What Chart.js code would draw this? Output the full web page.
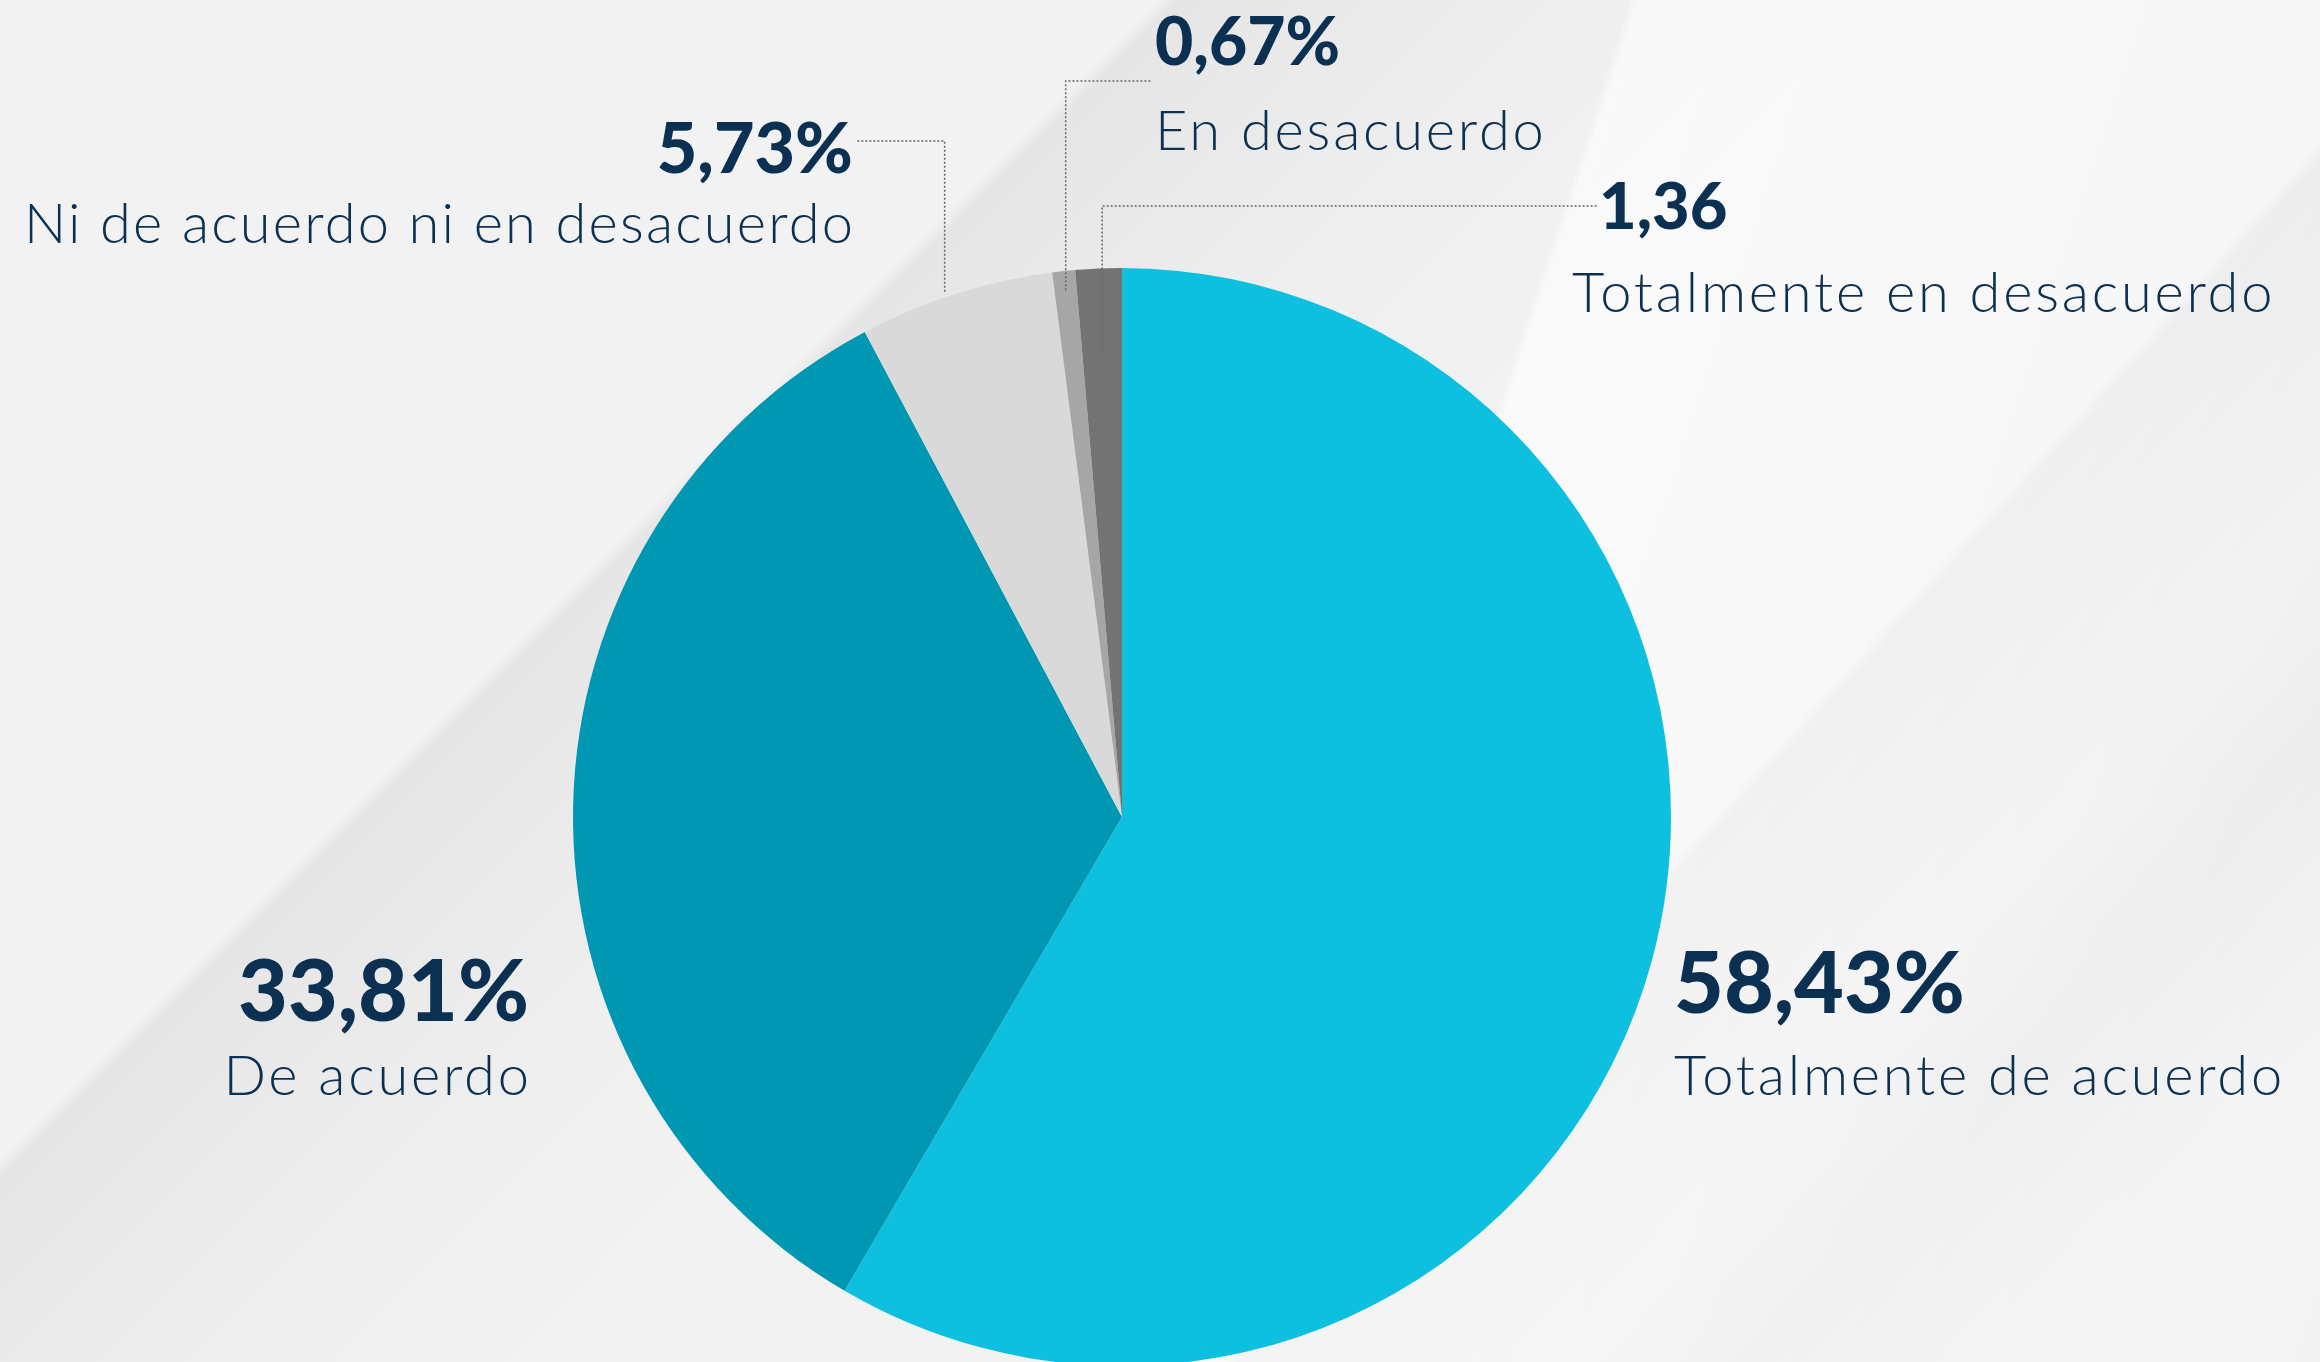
<!DOCTYPE html>
<html lang="es">
<head>
<meta charset="utf-8">
<title>Nivel de acuerdo</title>
<script src="https://cdn.jsdelivr.net/npm/chart.js@4.4.1/dist/chart.umd.min.js"></script>
<style>
  html, body {
    margin: 0;
    padding: 0;
    overflow: hidden;
  }
  body {
    width: 2320px;
    height: 1362px;
    background:
      linear-gradient(108deg, rgba(255,255,255,0) 59%, rgba(255,255,255,0.6) 59.3%, rgba(255,255,255,0.4) 80%, rgba(255,255,255,0.1) 100%),
      linear-gradient(132deg, rgba(0,0,0,0) 69%, rgba(0,0,0,0.055) 69.5%, rgba(0,0,0,0.015) 79%, rgba(0,0,0,0.045) 84%, rgba(0,0,0,0.0) 92%),
      linear-gradient(135deg, rgba(0,0,0,0) 31.5%, rgba(0,0,0,0.05) 32%, rgba(0,0,0,0.015) 43%, rgba(0,0,0,0) 52%),
      #f2f2f2;
  }
  canvas { display: block; }
</style>
</head>
<body>
<canvas id="pieChart" width="2320" height="1370"></canvas>
<script>
// Data
const categories = ['Totalmente de acuerdo', 'De acuerdo', 'Ni de acuerdo ni en desacuerdo', 'En desacuerdo', 'Totalmente en desacuerdo'];
const values = [58.43, 33.81, 5.73, 0.67, 1.36];
const valueLabels = ['58,43%', '33,81%', '5,73%', '0,67%', '1,36'];

const sliceColors = ['#0dc0df', '#0097b2', '#d9d9d9', '#a6a6a6', '#737373'];
const textColor = '#0b3052';

// label placement (numbers + category text); leader lines for the thin slices
// anchor = fraction across the slice angle, radius = fraction of the outer radius
const labelLayout = [
  { x: 1674, numY: 1013, textY: 1095, align: 'left', numSize: 86, textSize: 56 },
  { x: 529, numY: 1021, textY: 1095, align: 'right', numSize: 86, textSize: 56 },
  { x: 853, numY: 173, textY: 243, align: 'right', numSize: 70, textSize: 56, spacing: 2.2, elbowY: 141, lineEnd: 857, anchor: 0.45, radius: 1.01 },
  { x: 1155, numY: 65, textY: 150, align: 'left', numSize: 66, textSize: 56, elbowY: 81, lineEnd: 1151, anchor: 0.5, radius: 0.965 },
  { x: 1599, numY: 229, textY: 312, align: 'left', numSize: 65, textSize: 56, elbowY: 206, lineEnd: 1597, anchor: 0.5, radius: 0.845, textX: 1572 }
];

const labelPlugin = {
  id: 'sliceLabels',
  afterDraw(chart) {
    const ctx = chart.ctx;
    const arcs = chart.getDatasetMeta(0).data;
    ctx.save();

    // leader lines
    ctx.strokeStyle = '#666666';
    ctx.lineWidth = 1.5;
    ctx.setLineDash([2, 2]);
    labelLayout.forEach((l, i) => {
      if (l.elbowY === undefined) return;
      const arc = arcs[i];
      const a = arc.startAngle + (arc.endAngle - arc.startAngle) * l.anchor;
      const ax = arc.x + Math.cos(a) * arc.outerRadius * l.radius;
      const ay = arc.y + Math.sin(a) * arc.outerRadius * l.radius;
      ctx.beginPath();
      ctx.moveTo(ax, ay);
      ctx.lineTo(ax, l.elbowY);
      ctx.lineTo(l.lineEnd, l.elbowY);
      ctx.stroke();
    });
    ctx.setLineDash([]);

    // numbers and names
    ctx.fillStyle = textColor;
    ctx.textBaseline = 'alphabetic';
    labelLayout.forEach((l, i) => {
      ctx.textAlign = l.align;
      ctx.letterSpacing = '0px';
      ctx.font = `900 ${l.numSize}px Lato`;
      ctx.fillText(valueLabels[i], l.x, l.numY);
      const sp = l.spacing !== undefined ? l.spacing : 2.8;
      ctx.letterSpacing = sp + 'px';
      ctx.font = `300 ${l.textSize}px Lato`;
      const tx = l.textX !== undefined ? l.textX : l.x;
      ctx.fillText(categories[i], l.align === 'right' ? tx + sp : tx, l.textY);
    });
    ctx.restore();
  }
};

const pieCtx = document.getElementById('pieChart').getContext('2d');
const pieChart = new Chart(pieCtx, {
  type: 'pie',
  data: {
    labels: categories,
    datasets: [{
      data: values,
      backgroundColor: sliceColors,
      borderWidth: 0
    }]
  },
  options: {
    responsive: false,
    animation: false,
    layout: {
      padding: { left: 573, right: 649, top: 268, bottom: 4 }
    },
    plugins: {
      legend: { display: false },
      tooltip: { enabled: false }
    }
  },
  plugins: [labelPlugin]
});
</script>
</body>
</html>
